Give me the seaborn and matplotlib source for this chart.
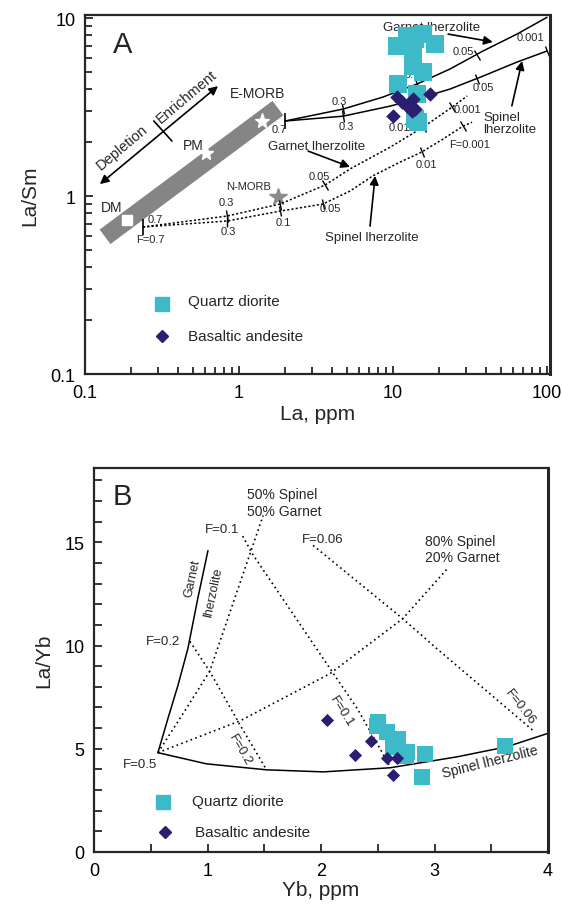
import matplotlib
matplotlib.use("Agg")
import matplotlib.pyplot as plt
import matplotlib.ticker as mticker
from matplotlib.markers import MarkerStyle
from matplotlib.transforms import Affine2D
import seaborn as sns

QD_COLOR = "#3DB9C7"
BA_COLOR = "#2A1E70"

# ---------------- panel A : La/Sm vs La ----------------
qd_la = [10.6, 12.3, 13.9, 15.7, 18.7, 13.5, 13.5, 15.7, 10.8, 14.3, 13.9, 14.5]
qd_lasm = [6.96, 7.92, 7.62, 8.13, 7.14, 6.70, 5.37, 4.97, 4.26, 3.74, 2.71, 2.60]
ba_la = [10.6, 11.4, 12.3, 13.5, 13.9, 17.4, 10.0, 13.3]
ba_lasm = [3.60, 3.37, 3.20, 3.51, 3.08, 3.74, 2.81, 3.00]

# melting curves: solid = enriched source, dotted = depleted source
grt_solid_la = [1.99, 4.73, 8.61, 14.3, 23.4, 38.4, 63.8, 100]
grt_solid_lasm = [2.64, 3.08, 3.60, 4.26, 5.17, 6.53, 8.13, 10.1]
spl_solid_la = [1.99, 4.73, 9.56, 14.3, 23.4, 38.4, 63.8, 100]
spl_solid_lasm = [2.64, 2.81, 3.20, 3.51, 3.99, 4.72, 5.66, 6.53]
grt_dot_la = [0.238, 0.836, 1.85, 3.62, 5.26, 9.56, 15.7, 24.2, 30.3]
grt_dot_lasm = [0.67, 0.772, 0.902, 1.153, 1.42, 1.88, 2.44, 3.16, 3.65]
spl_dot_la = [0.238, 0.836, 1.85, 3.51, 5.26, 7.41, 11.1, 15.4, 21.1, 28.5, 32.6]
spl_dot_lasm = [0.67, 0.724, 0.823, 0.902, 1.067, 1.30, 1.55, 1.77, 2.09, 2.47, 2.60]

# F ticks on the curves
fticks_la = [4.73, 14.3, 35.1, 4.73, 35.1, 100,
             0.836, 1.85, 3.62, 15.7, 24.2,
             0.836, 1.85, 3.51, 15.4, 28.5]
fticks_lasm = [3.08, 4.26, 6.2, 2.81, 4.54, 6.53,
               0.772, 0.89, 1.153, 2.44, 3.16,
               0.724, 0.823, 0.902, 1.77, 2.47]
fticks_angle = [12, 22, 27, 8, 20, 22,
                7, 14, 27, 31, 35,
                5, 12, 15, 25, 32]
start_la = [1.99, 0.238]
start_lasm = [2.64, 0.67]

band_la = [0.135, 1.79]
band_lasm = [0.59, 3.12]
star_la = [0.61, 1.41]          # PM, E-MORB
star_lasm = [1.74, 2.64]
dm_la, dm_lasm = [0.187], [0.733]
nmorb_la, nmorb_lasm = [1.79], [0.99]

# ---------------- panel B : La/Yb vs Yb ----------------
qd_yb = [2.50, 2.49, 2.58, 2.68, 2.63, 2.76, 2.75, 2.92, 2.89, 3.62]
qd_layb = [6.31, 6.12, 5.83, 5.49, 5.10, 4.85, 4.66, 4.76, 3.64, 5.15]
ba_yb = [2.05, 2.44, 2.30, 2.58, 2.67, 2.63]
ba_layb = [6.41, 5.39, 4.71, 4.56, 4.56, 3.74]

grt_b_yb = [0.563, 0.651, 0.739, 0.827, 0.915, 1.004]
grt_b_layb = [4.81, 6.46, 8.06, 9.85, 12.3, 14.6]
spl_b_yb = [0.563, 0.99, 1.52, 2.02, 2.61, 3.20, 3.64, 3.99]
spl_b_layb = [4.81, 4.27, 3.98, 3.88, 4.08, 4.61, 5.10, 5.73]
mix50_yb = [0.563, 0.79, 1.02, 1.49]
mix50_layb = [4.81, 6.75, 8.76, 16.3]
mix80_yb = [0.563, 1.29, 2.08, 2.72, 3.11]
mix80_layb = [4.81, 6.36, 8.64, 11.3, 13.7]
f02_yb = [0.845, 1.02, 1.29, 1.52]
f02_layb = [10.2, 8.74, 6.12, 3.98]
f01_yb = [1.31, 1.40, 1.96, 2.32, 2.61]
f01_layb = [15.3, 14.4, 9.85, 6.94, 4.13]
f006_yb = [1.93, 2.72, 3.02, 3.88]
f006_layb = [14.85, 11.3, 9.85, 5.83]

sns.set_style("ticks")
plt.rcParams["font.family"] = ["Liberation Sans", "DejaVu Sans"]


def curve(ax, xs, ys, dotted=False, lw=1.1):
    sns.lineplot(x=xs, y=ys, ax=ax, sort=False, estimator=None, color="black",
                 lw=lw, linestyle=(0, (1.4, 1.4)) if dotted else "-")


def txt(ax, x, y, s, size=9, **kw):
    kw.setdefault("ha", "center")
    ax.text(x, y, s, transform=ax.transAxes, fontsize=size, va="center", **kw)


def arrow(ax, p0, p1, style="-|>"):
    ax.annotate("", xy=p1, xytext=p0, xycoords="axes fraction",
                arrowprops=dict(arrowstyle=style, color="black", lw=1.2,
                                mutation_scale=13, shrinkA=0, shrinkB=0))


def frame(ax):
    for sp in ax.spines.values():
        sp.set_linewidth(1.6)
        sp.set_visible(True)
    ax.tick_params(which="both", direction="in", top=False, right=False,
                   width=1.1, labelsize=13, colors="black")
    ax.tick_params(which="major", length=6, pad=7)
    ax.tick_params(which="minor", length=5)


fig = plt.figure(figsize=(5.62, 9.12), dpi=100)

# ================= A =================
ax = fig.add_axes([0.1512, 0.5888, 0.8274, 0.3936])
ax.set_xscale("log")
ax.set_yscale("log")
ax.set_xlim(0.1, 104.5)
ax.set_ylim(0.1, 10.4)

sns.lineplot(x=band_la, y=band_lasm, ax=ax, color="#858585", lw=13,
             solid_capstyle="butt", sort=False, estimator=None)
ax.plot(star_la, star_lasm, ls="none", marker="*", ms=11, color="white", mec="white")
ax.plot(dm_la, dm_lasm, ls="none", marker="s", ms=7, color="white", mec="white")
ax.plot(nmorb_la, nmorb_lasm, ls="none", marker="*", ms=13, color="#8a8a8a", mec="#8a8a8a")

curve(ax, grt_solid_la, grt_solid_lasm)
curve(ax, spl_solid_la, spl_solid_lasm)
curve(ax, grt_dot_la, grt_dot_lasm, dotted=True)
curve(ax, spl_dot_la, spl_dot_lasm, dotted=True)
for x, y, a in zip(fticks_la, fticks_lasm, fticks_angle):
    ax.plot([x], [y], ls="none", color="black", ms=8, mew=1.0,
            marker=MarkerStyle("|", transform=Affine2D().rotate_deg(a)))
ax.plot(start_la, start_lasm, ls="none", marker="|", ms=11, mew=1.2, color="black")

sns.scatterplot(x=qd_la, y=qd_lasm, ax=ax, marker="s", s=150, color=QD_COLOR,
                edgecolor=QD_COLOR, linewidth=0, zorder=5)
sns.scatterplot(x=ba_la, y=ba_lasm, ax=ax, marker="D", s=55, color=BA_COLOR,
                edgecolor=BA_COLOR, linewidth=0, zorder=6)

frame(ax)
ax.spines["right"].set_linewidth(2.2)
ax.xaxis.set_major_locator(mticker.FixedLocator([0.1, 1, 10, 100]))
ax.yaxis.set_major_locator(mticker.FixedLocator([0.1, 1, 10]))
fmt = mticker.FuncFormatter(lambda v, p: f"{v:g}")
ax.xaxis.set_major_formatter(fmt)
ax.yaxis.set_major_formatter(fmt)
ax.xaxis.set_minor_locator(mticker.LogLocator(base=10, subs=range(2, 10)))
ax.yaxis.set_minor_locator(mticker.LogLocator(base=10, subs=range(2, 10)))
ax.xaxis.set_minor_formatter(mticker.NullFormatter())
ax.yaxis.set_minor_formatter(mticker.NullFormatter())
ax.set_xlabel("La, ppm", fontsize=15, labelpad=2)
ax.set_ylabel("La/Sm", fontsize=15, labelpad=8)

txt(ax, 0.080, 0.919, "A", size=21)
txt(ax, 0.080, 0.632, "Depletion", size=10.5, rotation=40)
txt(ax, 0.219, 0.774, "Enrichment", size=10.5, rotation=40)
arrow(ax, (0.032, 0.529), (0.286, 0.802), style="<|-|>")
ax.plot([0.148, 0.187], [0.705, 0.649], transform=ax.transAxes, color="black", lw=1.2)
txt(ax, 0.372, 0.783, "E-MORB", size=10)
txt(ax, 0.232, 0.638, "PM", size=10)
txt(ax, 0.058, 0.465, "DM", size=10)
txt(ax, 0.351, 0.524, "N-MORB", size=8)
txt(ax, 0.151, 0.432, "0.7", size=8)
txt(ax, 0.140, 0.376, "F=0.7", size=8)
txt(ax, 0.305, 0.479, "0.3", size=8)
txt(ax, 0.308, 0.398, "0.3", size=8)
txt(ax, 0.426, 0.423, "0.1", size=8)
txt(ax, 0.505, 0.552, "0.05", size=8)
txt(ax, 0.527, 0.462, "0.05", size=8)
txt(ax, 0.617, 0.382, "Spinel lherzolite", size=9.5)
arrow(ax, (0.613, 0.412), (0.624, 0.552))
txt(ax, 0.499, 0.634, "Garnet lherzolite", size=9.5)
arrow(ax, (0.480, 0.621), (0.570, 0.577))
txt(ax, 0.418, 0.682, "0.7", size=8)
txt(ax, 0.548, 0.760, "0.3", size=8)
txt(ax, 0.563, 0.691, "0.3", size=8)
txt(ax, 0.705, 0.836, "0.1", size=8)
txt(ax, 0.677, 0.688, "0.01", size=8)
txt(ax, 0.746, 0.967, "Garnet lherzolite", size=9.5)
arrow(ax, (0.781, 0.947), (0.877, 0.925))
txt(ax, 0.813, 0.900, "0.05", size=8)
txt(ax, 0.957, 0.939, "0.001", size=8)
txt(ax, 0.856, 0.799, "0.05", size=8)
txt(ax, 0.822, 0.738, "0.001", size=8)
txt(ax, 0.828, 0.641, "F=0.001", size=8)
txt(ax, 0.735, 0.585, "0.01", size=8)
txt(ax, 0.856, 0.699, "Spinel\nlherzolite", size=9.5, ha="left", linespacing=1.0)
arrow(ax, (0.918, 0.747), (0.940, 0.872))

ax.plot([0.166], [0.195], transform=ax.transAxes, marker="s", ms=10, color=QD_COLOR, ls="none")
ax.plot([0.166], [0.106], transform=ax.transAxes, marker="D", ms=6.5, color=BA_COLOR, ls="none")
txt(ax, 0.221, 0.203, "Quartz diorite", size=11, ha="left")
txt(ax, 0.221, 0.106, "Basaltic andesite", size=11, ha="left")

# ================= B =================
bx = fig.add_axes([0.1673, 0.0647, 0.8078, 0.4211])
bx.set_xlim(0, 4)
bx.set_ylim(0, 18.6)

curve(bx, grt_b_yb, grt_b_layb)
curve(bx, spl_b_yb, spl_b_layb)
for xs, ys in [(mix50_yb, mix50_layb), (mix80_yb, mix80_layb), (f02_yb, f02_layb),
               (f01_yb, f01_layb), (f006_yb, f006_layb)]:
    sns.lineplot(x=xs, y=ys, ax=bx, sort=False, estimator=None, color="black",
                 lw=1.2, linestyle=(0, (1, 2)))

sns.scatterplot(x=qd_yb, y=qd_layb, ax=bx, marker="s", s=140, color=QD_COLOR,
                edgecolor=QD_COLOR, linewidth=0, zorder=5)
sns.scatterplot(x=ba_yb, y=ba_layb, ax=bx, marker="D", s=45, color=BA_COLOR,
                edgecolor=BA_COLOR, linewidth=0, zorder=6)

frame(bx)
bx.spines["right"].set_linewidth(2.2)
bx.xaxis.set_major_locator(mticker.MultipleLocator(1))
bx.xaxis.set_minor_locator(mticker.MultipleLocator(0.5))
bx.yaxis.set_major_locator(mticker.MultipleLocator(5))
bx.yaxis.set_minor_locator(mticker.MultipleLocator(1))
bx.tick_params(which="both", length=6)
bx.set_xlabel("Yb, ppm", fontsize=15, labelpad=1)
bx.set_ylabel("La/Yb", fontsize=15, labelpad=8)

txt(bx, 0.062, 0.927, "B", size=21)
txt(bx, 0.337, 0.932, "50% Spinel", size=10, ha="left")
txt(bx, 0.337, 0.888, "50% Garnet", size=10, ha="left")
txt(bx, 0.729, 0.810, "80% Spinel", size=10, ha="left")
txt(bx, 0.729, 0.768, "20% Garnet", size=10, ha="left")
txt(bx, 0.282, 0.841, "F=0.1", size=9.5)
txt(bx, 0.504, 0.815, "F=0.06", size=9.5)
txt(bx, 0.152, 0.549, "F=0.2", size=9.5)
txt(bx, 0.216, 0.714, "Garnet", size=9, rotation=78)
txt(bx, 0.264, 0.677, "lherzolite", size=9, rotation=78)
txt(bx, 0.101, 0.229, "F=0.5", size=9.5)
txt(bx, 0.322, 0.268, "F=0.2", size=9.5, rotation=-60)
txt(bx, 0.546, 0.367, "F=0.1", size=9.5, rotation=-58)
txt(bx, 0.938, 0.380, "F=0.06", size=9.5, rotation=-52)
txt(bx, 0.872, 0.237, "Spinel lherzolite", size=10, rotation=14)

bx.plot([0.152], [0.130], transform=bx.transAxes, marker="s", ms=10, color=QD_COLOR, ls="none")
bx.plot([0.156], [0.052], transform=bx.transAxes, marker="D", ms=6.5, color=BA_COLOR, ls="none")
txt(bx, 0.216, 0.133, "Quartz diorite", size=11, ha="left")
txt(bx, 0.222, 0.052, "Basaltic andesite", size=11, ha="left")

fig.savefig("out.png", dpi=100)
